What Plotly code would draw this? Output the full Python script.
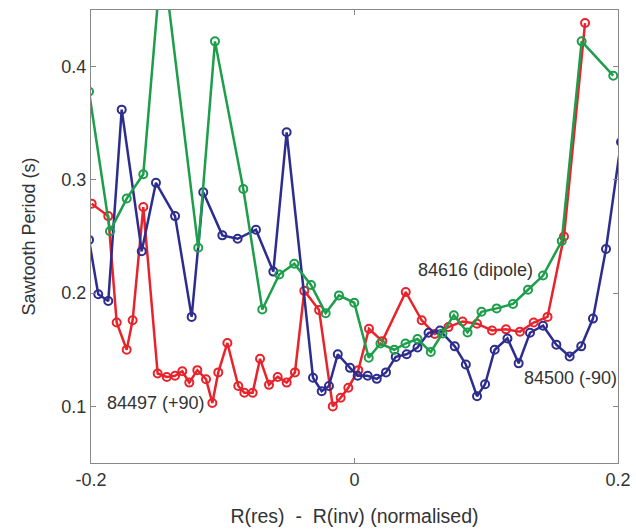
import plotly.graph_objects as go

# Shot 84497 (+90) - red
red_x = [-0.1995, -0.1869, -0.1805, -0.1729, -0.1684, -0.1603, -0.1494, -0.1425, -0.1362,
         -0.1307, -0.1254, -0.1193, -0.1127, -0.1079, -0.1034, -0.0965, -0.0882, -0.0836,
         -0.0773, -0.0717, -0.0649, -0.0583, -0.0515, -0.0452, -0.0381, -0.0269, -0.0165,
         -0.0105, -0.0047, 0.0029, 0.0110, 0.0211, 0.0389, 0.0510, 0.0609, 0.0713, 0.0820,
         0.0930, 0.1044, 0.1150, 0.1256, 0.1360, 0.1465, 0.1590, 0.1750]
red_y = [0.279, 0.268, 0.174, 0.150, 0.176, 0.276, 0.129, 0.126, 0.127,
         0.131, 0.121, 0.132, 0.124, 0.103, 0.130, 0.156, 0.118, 0.112,
         0.112, 0.142, 0.119, 0.126, 0.121, 0.130, 0.202, 0.185, 0.100,
         0.1076, 0.1165, 0.132, 0.1685, 0.1576, 0.201, 0.176, 0.164, 0.170, 0.175,
         0.173, 0.167, 0.168, 0.166, 0.174, 0.179, 0.250, 0.4385]

# Shot 84500 (-90) - blue
blue_x = [-0.2015, -0.1945, -0.1869, -0.1767, -0.1615, -0.1507, -0.1362, -0.1236, -0.1148,
          -0.1003, -0.0887, -0.0748, -0.0616, -0.0515, -0.0315, -0.0249, -0.0194, -0.0127,
          -0.0034, 0.0024, 0.0100, 0.0169, 0.0239, 0.0313, 0.0396, 0.0478, 0.0562, 0.0649,
          0.0761, 0.0845, 0.0930, 0.0991, 0.1064, 0.1161, 0.1246, 0.1332, 0.1431, 0.1532,
          0.1633, 0.1721, 0.1810, 0.1909, 0.2023]
blue_y = [0.247, 0.199, 0.193, 0.362, 0.237, 0.2974, 0.268, 0.179, 0.289,
          0.251, 0.248, 0.256, 0.219, 0.342, 0.1253, 0.1134, 0.118, 0.146,
          0.134, 0.127, 0.127, 0.1243, 0.130, 0.1437, 0.146, 0.152, 0.165, 0.167,
          0.153, 0.137, 0.109, 0.1195, 0.150, 0.160, 0.138, 0.165, 0.1712, 0.1545,
          0.144, 0.153, 0.1775, 0.239, 0.3335]

# Shot 84616 (dipole) - green
green_x = [-0.2015, -0.1856, -0.1729, -0.1603, -0.1460, -0.1186, -0.1059, -0.0844, -0.0700,
           -0.0571, -0.0457, -0.0330, -0.0219, -0.0118, -0.0002, 0.0108, 0.0197, 0.0302,
           0.0387, 0.0478, 0.0579, 0.0668, 0.0754, 0.0858, 0.0964, 0.1079, 0.1203, 0.1317,
           0.1431, 0.1573, 0.1724, 0.1964]
green_y = [0.378, 0.2547, 0.2835, 0.305, 0.502, 0.240, 0.4223, 0.292, 0.1855,
           0.2164, 0.226, 0.2072, 0.1823, 0.198, 0.1915, 0.143, 0.1555, 0.150,
           0.1555, 0.1595, 0.148, 0.1643, 0.1805, 0.1653, 0.1835, 0.1865, 0.1905, 0.203,
           0.2155, 0.246, 0.4223, 0.392]

series_names = ["84497 (+90)", "84500 (-90)", "84616 (dipole)"]
colors = ["#e8232b", "#2c2d8e", "#1c9e4a"]

x_ticks = [-0.2, 0, 0.2]
x_ticklabels = ["-0.2", "0", "0.2"]
y_ticks = [0.1, 0.2, 0.3, 0.4]
y_ticklabels = ["0.1", "0.2", "0.3", "0.4"]

FONT = "Liberation Sans, Arial, sans-serif"
TXT = "#333333"

fig = go.Figure()
for xs, ys, name, c in zip([red_x, blue_x, green_x], [red_y, blue_y, green_y], series_names, colors):
    fig.add_trace(go.Scatter(
        x=xs, y=ys, name=name, mode="lines+markers",
        line=dict(color=c, width=2.5),
        marker=dict(symbol="circle-open", size=8, color=c, line=dict(color=c, width=2)),
        showlegend=False,
    ))

labels = [
    dict(text="84497 (+90)", x=-0.1507, y=0.1034),
    dict(text="84616 (dipole)", x=0.0915, y=0.220),
    dict(text="84500 (-90)", x=0.1643, y=0.1255),
]
for a in labels:
    fig.add_annotation(x=a["x"], y=a["y"], text=a["text"], showarrow=False,
                       xref="x", yref="y", font=dict(family=FONT, size=18, color=TXT))

fig.update_layout(
    width=636, height=529,
    margin=dict(l=91, r=18, t=10, b=66),
    paper_bgcolor="white", plot_bgcolor="white",
    font=dict(family=FONT, size=18, color=TXT),
    xaxis=dict(
        range=[-0.2, 0.2], tickvals=x_ticks, ticktext=x_ticklabels,
        ticks="inside", ticklen=5, tickcolor="#888888", mirror="allticks",
        showline=True, linecolor="#888888", linewidth=1.2, showgrid=False, zeroline=False,
        tickfont=dict(size=18),
        title=dict(text="R(res)  -  R(inv) (normalised)", standoff=20,
                   font=dict(family=FONT, size=19.5, color=TXT)),
        automargin=False,
    ),
    yaxis=dict(
        range=[0.05, 0.45], tickvals=y_ticks, ticktext=y_ticklabels,
        ticks="inside", ticklen=5, tickcolor="#888888", mirror="allticks",
        showline=True, linecolor="#888888", linewidth=1.2, showgrid=False, zeroline=False,
        tickfont=dict(size=18),
        title=dict(text="Sawtooth Period (s)", standoff=20,
                   font=dict(family=FONT, size=18, color=TXT)),
        automargin=False,
    ),
)

fig.write_html("out.html")
